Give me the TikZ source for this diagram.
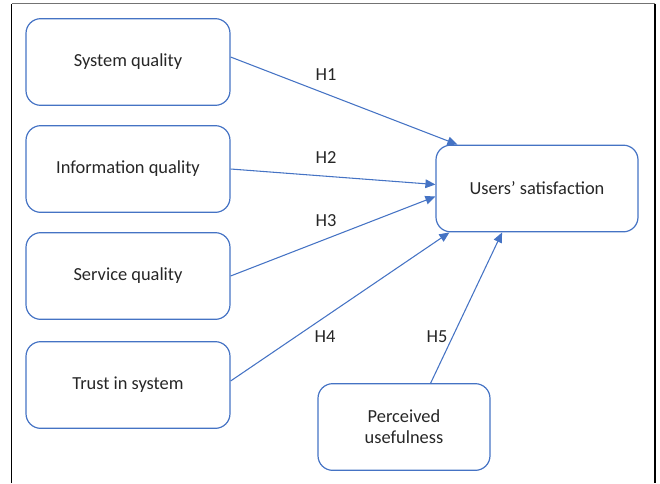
\documentclass[tikz,border=0pt]{standalone}
\usepackage{fontspec}
\setmainfont{Carlito}
\usepackage{tikz}
\usetikzlibrary{arrows.meta}
\definecolor{myblue}{rgb}{0.27,0.45,0.77}
\definecolor{mytext}{rgb}{0.15,0.15,0.15}
\definecolor{mygray}{rgb}{0.45,0.45,0.45}

\begin{document}
\begin{tikzpicture}[x=0.75pt,y=-0.75pt,
  factor/.style={draw=myblue,line width=0.9pt,rounded corners=11pt,align=center,text=mytext,
    minimum width=153pt,minimum height=65pt,inner sep=2pt,font=\fontsize{13.8}{16}\selectfont},
  path/.style={myblue,line width=0.8pt,-{Triangle[length=7.5pt,width=6.5pt]}},
  hyp/.style={font=\fontsize{13.8}{16}\selectfont,text=mytext,inner sep=0pt}]
  \useasboundingbox (0,0) rectangle (660,483);
  \draw[black,line width=1pt] (11.5,483) -- (11.5,3.5);
  \draw[mygray,line width=1pt] (11.5,3.5) -- (655,3.5);
  \draw[black,line width=1pt] (655,3.5) -- (655,483);
  % factors on the left
  \node[factor] (sys)   at (128,62)  {System quality};
  \node[factor] (info)  at (128,169) {Information quality};
  \node[factor] (serv)  at (128,276) {Service quality};
  \node[factor] (trust) at (128,385) {Trust in system};
  % outcome and the extra factor
  \node[factor,minimum width=151.5pt] (sat) at (537,188.5) {Users’ satisfaction};
  \node[factor,minimum width=129pt] (perc) at (404,427) {Perceived\\usefulness};
  % hypotheses
  \draw[path] ([yshift=3.75pt]sys.east) -- ([xshift=16.5pt]sat.north west);
  \draw[path] (info.east) -- ([yshift=3pt]sat.west);
  \draw[path] (serv.east) -- ([yshift=-6pt]sat.west);
  \draw[path] ([yshift=3pt]trust.east) -- ([xshift=10.5pt]sat.south west);
  \draw[path] ([xshift=20pt]perc.north) -- ([xshift=50pt]sat.south west);
  \node[hyp] (h1) at (326,75)  {H1};
  \node[hyp] (h2) at (326,158) {H2};
  \node[hyp] (h3) at (326,221) {H3};
  \node[hyp] (h4) at (325,337) {H4};
  \node[hyp] (h5) at (437,337) {H5};
\end{tikzpicture}
\end{document}
